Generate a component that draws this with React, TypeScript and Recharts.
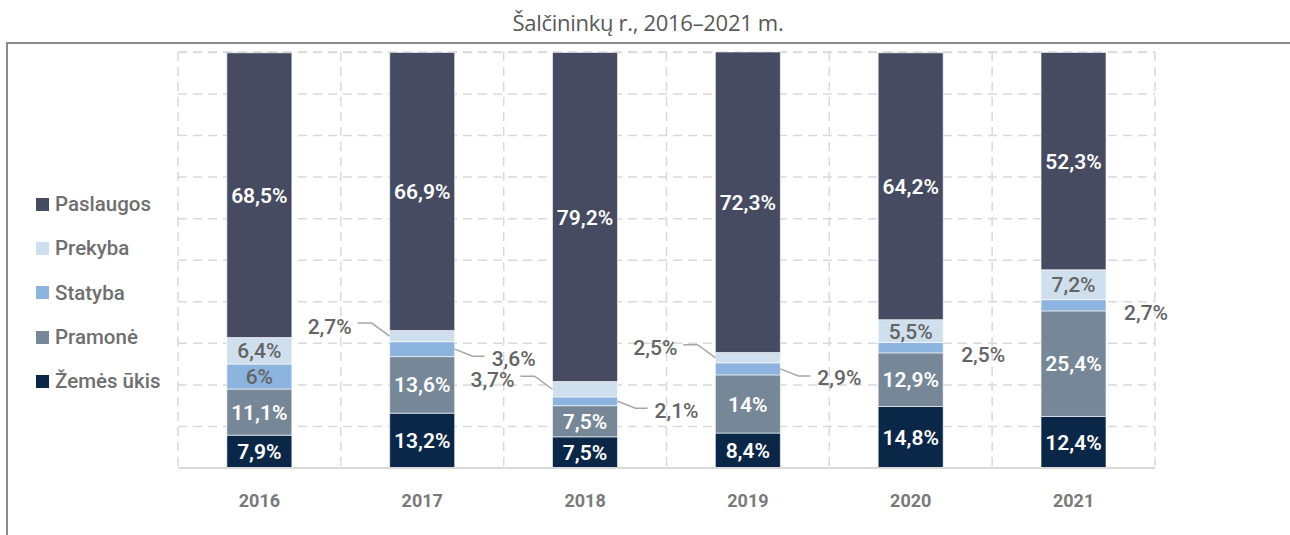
import { BarChart, Bar, XAxis, YAxis, CartesianGrid, LabelList } from 'recharts'

const years = ['2016', '2017', '2018', '2019', '2020', '2021']
const zemesUkis = [7.9, 13.2, 7.5, 8.4, 14.8, 12.4]
const pramone = [11.1, 13.6, 7.5, 14, 12.9, 25.4]
const statyba = [6, 3.6, 2.1, 2.9, 2.5, 2.7]
const prekyba = [6.4, 2.7, 3.7, 2.5, 5.5, 7.2]
const paslaugos = [68.5, 66.9, 79.2, 72.3, 64.2, 52.3]
const yTicks = [0, 10, 20, 30, 40, 50, 60, 70, 80, 90, 100]

// where small-segment labels go: inside, callout left / right, or plain to the side
const prekybaPlace = ['in', 'left', 'left', 'left', 'in', 'in']
const statybaPlace = ['in', 'right', 'right', 'right', 'side', 'side']

const series = [
  { key: 'paslaugos', name: 'Paslaugos', color: '#464b62' },
  { key: 'prekyba', name: 'Prekyba', color: '#cfdfee' },
  { key: 'statyba', name: 'Statyba', color: '#8db3df' },
  { key: 'pramone', name: 'Pramonė', color: '#768798' },
  { key: 'zemesUkis', name: 'Žemės ūkis', color: '#0b2748' },
]

const data = years.map((year, i) => ({
  year,
  zemesUkis: zemesUkis[i],
  pramone: pramone[i],
  statyba: statyba[i],
  prekyba: prekyba[i],
  paslaugos: paslaugos[i],
}))

const FONT = 'Roboto, "DejaVu Sans", sans-serif'
const GREY = '#646464'
const LEADER = '#a6a6a6'

const fmt = (v: number) => String(v).replace('.', ',') + '%'

const makeLabel = (places: string[] | null, color: string, weight = 600) => (props: any) => {
  const { x, y, width, height, value, index } = props
  const place = places ? places[index] : 'in'
  const mid = Number(y) + Number(height) / 2
  const left = Number(x)
  const right = Number(x) + Number(width)
  const common = { fontSize: 21, fontFamily: FONT }
  if (place === 'in') {
    return (
      <text x={left + Number(width) / 2} y={mid} dy="0.36em" textAnchor="middle" fill={color} fontWeight={weight} {...common}>
        {fmt(value)}
      </text>
    )
  }
  if (place === 'left') {
    const ty = mid - 10
    return (
      <g>
        <polyline points={`${left - 32},${ty - 3} ${left - 18},${ty - 3} ${left},${mid}`} fill="none" stroke={LEADER} strokeWidth={1.5} />
        <text x={left - 38} y={ty} dy="0.36em" textAnchor="end" fill={GREY} fontWeight={500} {...common}>
          {fmt(value)}
        </text>
      </g>
    )
  }
  if (place === 'right') {
    const ty = mid + 9
    return (
      <g>
        <polyline points={`${right},${mid} ${right + 18},${ty - 2} ${right + 30},${ty - 2}`} fill="none" stroke={LEADER} strokeWidth={1.5} />
        <text x={right + 37} y={ty} dy="0.36em" textAnchor="start" fill={GREY} fontWeight={500} {...common}>
          {fmt(value)}
        </text>
      </g>
    )
  }
  return (
    <text x={right + 18} y={mid + 7} dy="0.36em" textAnchor="start" fill={GREY} fontWeight={500} {...common}>
      {fmt(value)}
    </text>
  )
}

export default function App() {
  const colorOf = (k: string) => series.find((s) => s.key === k)!.color
  return (
    <div style={{ position: 'absolute', left: 0, top: 0, width: 1290, height: 535, background: '#fff', overflow: 'hidden' }}>
      <div
        style={{
          position: 'absolute',
          left: 0,
          top: 7,
          width: 1296,
          textAlign: 'center',
          fontFamily: '"Open Sans", sans-serif',
          fontSize: 22,
          letterSpacing: -0.3,
          color: '#595959',
        }}
      >
        Šalčininkų r., 2016–2021 m.
      </div>
      <div
        style={{
          position: 'absolute',
          left: 6,
          top: 42,
          width: 1300,
          height: 520,
          borderTop: '2px solid #8c8c8c',
          borderLeft: '2px solid #8c8c8c',
        }}
      />
      <div style={{ position: 'absolute', left: 0, top: 0 }}>
        <BarChart
          width={1290}
          height={535}
          data={data}
          margin={{ top: 52, right: 135, bottom: 27, left: 178 }}
          barCategoryGap="30%"
        >
          <CartesianGrid
            stroke="#d9d9d9"
            strokeWidth={1.5}
            strokeDasharray="9 6"
            verticalCoordinatesGenerator={({ offset }: any) =>
              years.map((_, i) => offset.left + (i * offset.width) / years.length).concat(offset.left + offset.width)
            }
          />
          <YAxis hide domain={[0, 100]} ticks={yTicks} />
          <XAxis
            dataKey="year"
            height={40}
            tickLine={false}
            tickSize={0}
            tickMargin={26}
            axisLine={{ stroke: '#d9d9d9', strokeWidth: 2 }}
            tick={{ fill: '#7a7a7a', fontSize: 18, fontWeight: 700, fontFamily: FONT }}
          />
          <Bar dataKey="zemesUkis" stackId="a" fill={colorOf('zemesUkis')} stroke="#ffffff" strokeWidth={0.6} isAnimationActive={false}>
            <LabelList dataKey="zemesUkis" content={makeLabel(null, '#ffffff')} />
          </Bar>
          <Bar dataKey="pramone" stackId="a" fill={colorOf('pramone')} stroke="#ffffff" strokeWidth={0.6} isAnimationActive={false}>
            <LabelList dataKey="pramone" content={makeLabel(null, '#ffffff')} />
          </Bar>
          <Bar dataKey="statyba" stackId="a" fill={colorOf('statyba')} stroke="#ffffff" strokeWidth={0.6} isAnimationActive={false}>
            <LabelList dataKey="statyba" content={makeLabel(statybaPlace, GREY, 500)} />
          </Bar>
          <Bar dataKey="prekyba" stackId="a" fill={colorOf('prekyba')} stroke="#ffffff" strokeWidth={0.6} isAnimationActive={false}>
            <LabelList dataKey="prekyba" content={makeLabel(prekybaPlace, GREY, 500)} />
          </Bar>
          <Bar dataKey="paslaugos" stackId="a" fill={colorOf('paslaugos')} stroke="#ffffff" strokeWidth={0.6} isAnimationActive={false}>
            <LabelList dataKey="paslaugos" content={makeLabel(null, '#ffffff')} />
          </Bar>
        </BarChart>
      </div>
      <div style={{ position: 'absolute', left: 36, top: 182 }}>
        {series.map((s) => (
          <div key={s.key} style={{ display: 'flex', alignItems: 'center', height: 44.3 }}>
            <div style={{ width: 13, height: 13, background: s.color, marginRight: 6 }} />
            <span style={{ fontFamily: FONT, fontSize: 20.5, color: '#6f6f6f', fontWeight: 500 }}>{s.name}</span>
          </div>
        ))}
      </div>
    </div>
  )
}
